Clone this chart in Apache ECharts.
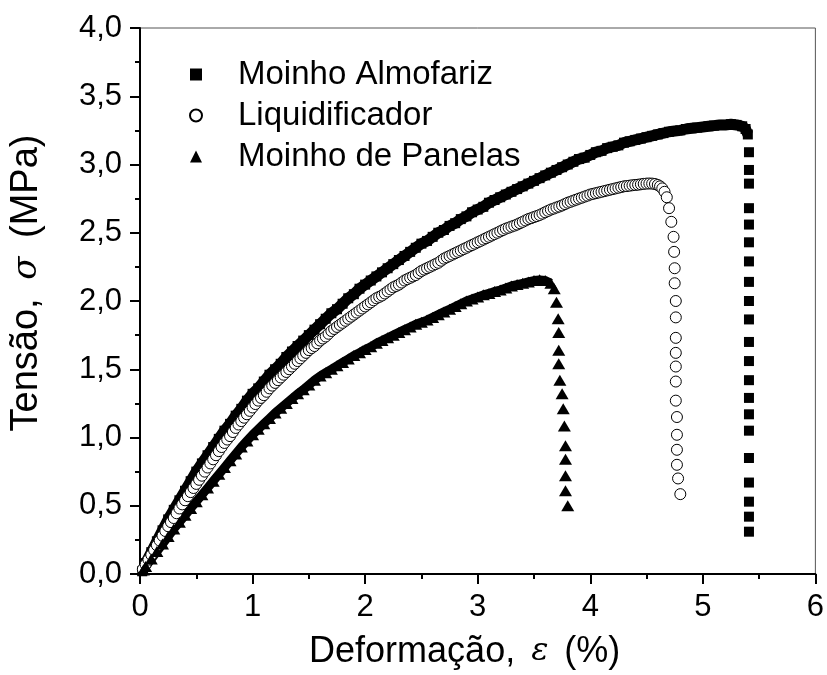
<!DOCTYPE html>
<html><head><meta charset="utf-8">
<script src="https://cdn.jsdelivr.net/npm/echarts@6/dist/echarts.min.js"></script>
<style>html,body{margin:0;padding:0;background:#fff}#c{width:827px;height:675px}</style>
</head><body><div id="c"></div>
<script>
// ---- data (strain %, stress MPa) ----
const seriesNames = ['Moinho Almofariz', 'Liquidificador', 'Moinho de Panelas'];

const almofariz = [
[0.02,0.02],[0.05,0.08],[0.10,0.16],[0.15,0.24],[0.20,0.32],[0.25,0.40],[0.30,0.47],[0.35,0.54],[0.40,0.61],[0.45,0.68],
[0.50,0.75],[0.55,0.81],[0.60,0.87],[0.65,0.93],[0.70,0.99],[0.75,1.05],[0.80,1.10],[0.85,1.16],[0.90,1.21],[0.95,1.27],
[1.00,1.32],[1.05,1.36],[1.10,1.41],[1.15,1.46],[1.20,1.50],[1.25,1.54],[1.30,1.59],[1.35,1.63],[1.40,1.67],[1.45,1.71],
[1.50,1.75],[1.55,1.79],[1.60,1.83],[1.65,1.87],[1.70,1.91],[1.75,1.94],[1.80,1.98],[1.85,2.02],[1.90,2.05],[1.95,2.09],
[2.00,2.12],[2.05,2.15],[2.10,2.18],[2.15,2.21],[2.20,2.24],[2.25,2.27],[2.30,2.30],[2.35,2.33],[2.40,2.36],[2.45,2.39],
[2.50,2.42],[2.55,2.44],[2.60,2.47],[2.65,2.50],[2.70,2.52],[2.75,2.55],[2.80,2.57],[2.85,2.60],[2.90,2.62],[2.95,2.65],
[3.00,2.67],[3.05,2.69],[3.10,2.72],[3.15,2.74],[3.20,2.76],[3.25,2.78],[3.30,2.80],[3.35,2.82],[3.40,2.84],[3.45,2.86],
[3.50,2.88],[3.55,2.90],[3.60,2.92],[3.65,2.94],[3.70,2.96],[3.75,2.98],[3.80,3.00],[3.85,3.02],[3.90,3.04],[3.95,3.05],
[4.00,3.07],[4.05,3.09],[4.10,3.10],[4.15,3.12],[4.20,3.13],[4.25,3.14],[4.30,3.16],[4.35,3.17],[4.40,3.18],[4.45,3.19],
[4.50,3.20],[4.55,3.21],[4.60,3.22],[4.65,3.23],[4.70,3.24],[4.75,3.245],[4.80,3.25],[4.85,3.26],[4.90,3.265],[4.95,3.27],
[5.00,3.275],[5.05,3.28],[5.10,3.285],[5.15,3.29],[5.20,3.29],[5.25,3.295],[5.30,3.29],[5.35,3.28],[5.38,3.26],[5.40,3.22]
];
const almofarizDrop = [
[5.41,3.09],[5.41,2.96],[5.41,2.86],[5.41,2.68],[5.41,2.56],[5.41,2.43],[5.41,2.29],[5.41,2.14],[5.41,2.00],[5.41,1.865],
[5.41,1.70],[5.41,1.56],[5.41,1.42],[5.41,1.29],[5.41,1.17],[5.41,1.05],[5.41,0.85],[5.41,0.67],[5.41,0.53],[5.41,0.42],[5.41,0.31]
];

const liquidificador = [
[0.025,0.035],[0.05,0.07],[0.075,0.105],[0.10,0.14],[0.125,0.175],[0.15,0.21],[0.175,0.245],[0.20,0.28],[0.225,0.315],[0.25,0.35],
[0.275,0.38],[0.30,0.41],[0.325,0.445],[0.35,0.48],[0.375,0.51],[0.40,0.54],[0.425,0.57],[0.45,0.60],[0.475,0.63],[0.50,0.66],
[0.525,0.69],[0.55,0.72],[0.575,0.75],[0.60,0.78],[0.625,0.81],[0.65,0.84],[0.675,0.87],[0.70,0.90],[0.725,0.93],[0.75,0.96],
[0.775,0.985],[0.80,1.01],[0.825,1.04],[0.85,1.07],[0.875,1.095],[0.90,1.12],[0.925,1.145],[0.95,1.17],[0.975,1.195],[1.00,1.22],
[1.025,1.245],[1.05,1.27],[1.075,1.29],[1.10,1.31],[1.125,1.335],[1.15,1.36],[1.175,1.38],[1.20,1.40],[1.225,1.42],[1.25,1.44],
[1.275,1.46],[1.30,1.48],[1.325,1.50],[1.35,1.52],[1.375,1.54],[1.40,1.56],[1.425,1.58],[1.45,1.60],[1.475,1.62],[1.50,1.64],
[1.525,1.655],[1.55,1.67],[1.575,1.69],[1.60,1.71],[1.625,1.725],[1.65,1.74],[1.675,1.76],[1.70,1.78],[1.725,1.795],[1.75,1.81],
[1.775,1.825],[1.80,1.84],[1.825,1.855],[1.85,1.87],[1.875,1.885],[1.90,1.90],[1.925,1.915],[1.95,1.93],[1.975,1.945],[2.00,1.96],
[2.025,1.975],[2.05,1.99],[2.075,2.005],[2.10,2.02],[2.125,2.03],[2.15,2.04],[2.175,2.055],[2.20,2.07],[2.225,2.085],[2.25,2.10],
[2.275,2.11],[2.30,2.12],[2.325,2.135],[2.35,2.15],[2.375,2.16],[2.40,2.17],[2.425,2.18],[2.45,2.19],[2.475,2.205],[2.50,2.22],
[2.525,2.23],[2.55,2.24],[2.575,2.25],[2.60,2.26],[2.625,2.27],[2.65,2.28],[2.675,2.295],[2.70,2.31],[2.725,2.32],[2.75,2.33],
[2.775,2.34],[2.80,2.35],[2.825,2.36],[2.85,2.37],[2.875,2.38],[2.90,2.39],[2.925,2.40],[2.95,2.41],[2.975,2.42],[3.00,2.43],
[3.025,2.44],[3.05,2.45],[3.075,2.46],[3.10,2.47],[3.125,2.48],[3.15,2.49],[3.175,2.50],[3.20,2.51],[3.225,2.52],[3.25,2.53],
[3.275,2.537],[3.30,2.545],[3.325,2.552],[3.35,2.56],[3.375,2.57],[3.40,2.58],[3.425,2.59],[3.45,2.60],[3.475,2.607],[3.50,2.615],
[3.525,2.622],[3.55,2.63],[3.575,2.64],[3.60,2.65],[3.625,2.66],[3.65,2.67],[3.675,2.677],[3.70,2.685],[3.725,2.692],[3.75,2.70],
[3.775,2.71],[3.80,2.72],[3.825,2.727],[3.85,2.735],[3.875,2.742],[3.90,2.75],[3.925,2.757],[3.95,2.765],[3.975,2.772],[4.00,2.78],
[4.025,2.785],[4.05,2.79],[4.075,2.795],[4.10,2.80],[4.125,2.805],[4.15,2.81],[4.175,2.815],[4.20,2.82],[4.225,2.825],[4.25,2.83],
[4.275,2.835],[4.30,2.84],[4.325,2.842],[4.35,2.845],[4.375,2.848],[4.40,2.85],[4.425,2.852],[4.45,2.855],[4.475,2.858],[4.50,2.86],
[4.525,2.861],[4.55,2.86],[4.575,2.857],[4.60,2.85],[4.62,2.84],[4.64,2.825],[4.66,2.80]
];
const liquidificadorDrop = [
[4.68,2.76],[4.70,2.68],[4.72,2.58],[4.74,2.47],[4.745,2.36],[4.75,2.24],[4.75,2.13],[4.76,2.00],[4.76,1.88],[4.76,1.73],
[4.76,1.62],[4.76,1.52],[4.76,1.41],[4.76,1.27],[4.77,1.15],[4.77,1.02],[4.77,0.91],[4.77,0.80],[4.78,0.70],[4.80,0.585]
];

const panelas = [
[0.03,0.03],[0.05,0.055],[0.10,0.11],[0.15,0.165],[0.20,0.22],[0.25,0.275],[0.30,0.33],[0.35,0.38],[0.40,0.43],[0.45,0.48],
[0.50,0.53],[0.55,0.58],[0.60,0.63],[0.65,0.68],[0.70,0.73],[0.75,0.78],[0.80,0.83],[0.85,0.88],[0.90,0.93],[0.95,0.975],
[1.00,1.02],[1.05,1.06],[1.10,1.10],[1.15,1.14],[1.20,1.18],[1.25,1.215],[1.30,1.25],[1.35,1.285],[1.40,1.32],[1.45,1.35],
[1.50,1.385],[1.55,1.42],[1.60,1.45],[1.65,1.475],[1.70,1.50],[1.75,1.525],[1.80,1.55],[1.85,1.575],[1.90,1.60],[1.95,1.62],
[2.00,1.645],[2.05,1.665],[2.10,1.69],[2.15,1.71],[2.20,1.73],[2.25,1.75],[2.30,1.77],[2.35,1.79],[2.40,1.81],[2.45,1.83],
[2.50,1.845],[2.55,1.86],[2.60,1.88],[2.65,1.90],[2.70,1.92],[2.75,1.94],[2.80,1.96],[2.85,1.98],[2.90,2.00],[2.95,2.015],
[3.00,2.03],[3.05,2.045],[3.10,2.055],[3.15,2.07],[3.20,2.08],[3.25,2.095],[3.30,2.11],[3.35,2.12],[3.40,2.13],[3.45,2.14],
[3.50,2.15],[3.55,2.155],[3.60,2.15],[3.65,2.13]
];
const panelasDrop = [
[3.68,2.09],[3.70,1.99],[3.715,1.87],[3.72,1.77],[3.72,1.64],[3.72,1.54],[3.73,1.42],[3.75,1.32],[3.76,1.21],[3.77,1.085],
[3.78,0.94],[3.78,0.84],[3.78,0.72],[3.78,0.61],[3.80,0.50]
];

const xTicks = [0, 1, 2, 3, 4, 5, 6];
const yTicks = [0, 0.5, 1, 1.5, 2, 2.5, 3, 3.5, 4];
const xTitle = 'Deformação, {s|ε} (%)';
const yTitle = 'Tensão, {s|σ} (MPa)';

// ---- chart ----
const FONT = 'Arial, "Liberation Sans", sans-serif';
const chart = echarts.init(document.getElementById('c'), null, {renderer: 'canvas'});

const squareStyle = {symbol: 'rect', symbolSize: 10, itemStyle: {color: '#000', opacity: 1}};
const circleStyle = {symbol: 'circle', symbolSize: 11, itemStyle: {color: '#fff', borderColor: '#000', borderWidth: 1, opacity: 1}};
const triStyle = {symbol: 'triangle', symbolSize: [13, 11], itemStyle: {color: '#000', opacity: 1}};

function sc(name, data, st, z) {
  return Object.assign({type: 'scatter', name: name, data: data, z: z, animation: false, emphasis: {disabled: true}}, st);
}
function band(data, w, z) {
  return {type: 'line', name: '_band', data: data, z: z, showSymbol: false, symbol: 'none', smooth: false,
    lineStyle: {color: '#000', width: w, cap: 'butt', join: 'round'}, animation: false, emphasis: {disabled: true}, silent: true};
}

const xRich = {s: {fontFamily: '"DejaVu Serif", serif', fontStyle: 'italic', fontSize: 32, color: '#000', padding: [0, 6]}};
const yRich = {s: {fontFamily: '"DejaVu Serif", serif', fontStyle: 'italic', fontSize: 34, color: '#000', padding: [0, 8]}};

chart.setOption({
  animation: false,
  backgroundColor: '#fff',
  grid: {left: 139, right: 8, top: 28, bottom: 100, show: true, borderColor: '#555', borderWidth: 1, backgroundColor: 'transparent'},
  legend: {
    orient: 'vertical', left: 184, top: 53, itemGap: 8, itemWidth: 12, itemHeight: 12,
    selectedMode: false,
    textStyle: {fontFamily: FONT, fontSize: 33, color: '#000', padding: [0, 0, 0, 31]},
    data: seriesNames
  },
  xAxis: {
    type: 'value', min: xTicks[0], max: xTicks[xTicks.length - 1], interval: 1,
    name: xTitle, nameLocation: 'middle', nameGap: 78,
    nameTextStyle: {fontFamily: FONT, fontSize: 36, color: '#000', verticalAlign: 'middle', padding: [0, 26, 0, 0], rich: xRich},
    axisLine: {show: true, onZero: false, lineStyle: {color: '#000', width: 2}},
    axisTick: {show: true, inside: false, length: 10, lineStyle: {color: '#000', width: 2}},
    minorTick: {show: true, splitNumber: 2, length: 5, lineStyle: {color: '#000', width: 2}},
    axisLabel: {fontFamily: FONT, fontSize: 31, color: '#000', margin: 18},
    splitLine: {show: false}
  },
  yAxis: {
    type: 'value', min: yTicks[0], max: yTicks[yTicks.length - 1], interval: 0.5,
    name: yTitle, nameLocation: 'middle', nameGap: 113, nameRotate: 90,
    nameTextStyle: {fontFamily: FONT, fontSize: 38, color: '#000', verticalAlign: 'middle', padding: [0, 0, 0, 36], rich: yRich},
    axisLine: {show: true, onZero: false, lineStyle: {color: '#000', width: 2}},
    axisTick: {show: true, inside: false, length: 10, lineStyle: {color: '#000', width: 2}},
    minorTick: {show: true, splitNumber: 2, length: 5, lineStyle: {color: '#000', width: 2}},
    axisLabel: {fontFamily: FONT, fontSize: 31, color: '#000', margin: 18,
      formatter: v => v.toFixed(1).replace('.', ',')},
    splitLine: {show: false}
  },
  series: [
    band(almofariz, 11, 1),
    sc(seriesNames[0], almofariz, squareStyle, 2),
    sc(seriesNames[0], almofarizDrop, squareStyle, 2),
    sc(seriesNames[1], liquidificador, circleStyle, 3),
    sc(seriesNames[1], liquidificadorDrop, circleStyle, 3),
    band(panelas, 9, 3),
    sc(seriesNames[2], panelas, triStyle, 4),
    sc(seriesNames[2], panelasDrop, triStyle, 4)
  ]
});
</script></body></html>
